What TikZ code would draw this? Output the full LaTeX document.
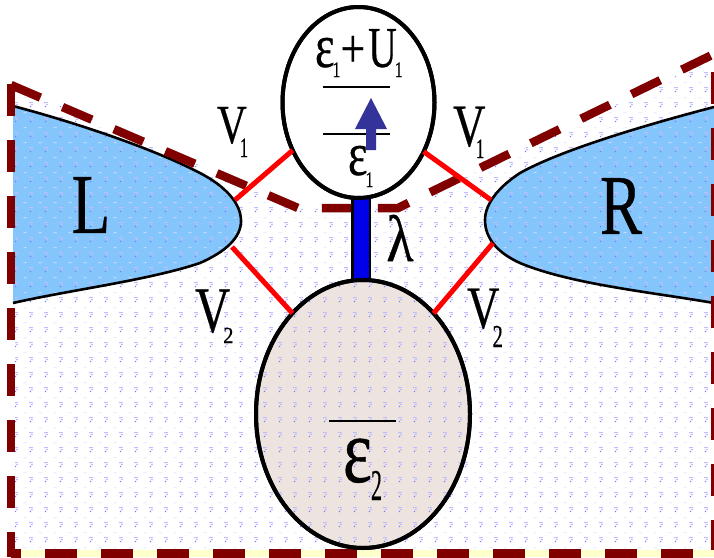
\documentclass[tikz,border=0pt]{standalone}
\usepackage{fontspec}
\setmainfont{Liberation Serif}
\newfontfamily\heavy{Liberation Serif}[FakeBold=0.5]
\usetikzlibrary{shapes.geometric,patterns,calc}
\definecolor{dashred}{HTML}{800000}
\definecolor{leadblue}{HTML}{84C5FB}
\definecolor{beige}{HTML}{EDE3DF}
\definecolor{arrowblue}{HTML}{333399}
\definecolor{dotfaint}{HTML}{E4E4FF}
\definecolor{dotlight}{HTML}{BEBEFF}
\definecolor{dotdark}{HTML}{7878FF}
\definecolor{paleyellow}{HTML}{FFFFCC}
\pgfdeclarepatterninherentlycolored{qdots}{\pgfqpoint{0pt}{0pt}}{\pgfqpoint{14.6pt}{14.6pt}}{\pgfqpoint{14.6pt}{14.6pt}}{%
  \pgfsetfillcolor{dotfaint}%
  \pgfpathrectangle{\pgfqpoint{10pt}{10pt}}{\pgfqpoint{3pt}{1pt}}%
  \pgfusepath{fill}%
  \pgfsetfillcolor{dotlight}%
  \pgfpathrectangle{\pgfqpoint{0pt}{5pt}}{\pgfqpoint{4pt}{1pt}}%
  \pgfpathrectangle{\pgfqpoint{2pt}{3pt}}{\pgfqpoint{2pt}{1pt}}%
  \pgfusepath{fill}%
  \pgfsetfillcolor{dotdark}%
  \pgfpathrectangle{\pgfqpoint{1pt}{1pt}}{\pgfqpoint{1.2pt}{1.2pt}}%
  \pgfusepath{fill}%
}
\tikzset{
  leadfill/.style={fill=leadblue},
  leadline/.style={draw=black,line width=2.6pt},
  dashline/.style={draw=dashred,line width=8.5pt,dash pattern=on 32pt off 24pt},
  coupling/.style={draw=red,line width=5pt},
  hopedge/.style={draw=black,line width=20pt},
  hopbar/.style={draw=blue!92!black,line width=15pt},
  qdot/.style={ellipse,draw=black,line width=4pt,inner sep=0pt,outer sep=0pt},
  level/.style={draw=black,line width=2pt},
  lab/.style={inner sep=0pt,outer sep=0pt,text=black,anchor=base west}
}
\newcommand{\sx}[2]{\scalebox{#1}[1]{\heavy #2}}
\newcommand{\fs}[1]{\fontsize{#1}{#1}\selectfont}
% glyph size, glyph xscale, glyph, kern, drop, sub size, sub xscale, digit
\newcommand{\gs}[8]{{\fs{#1}\sx{#2}{#3}}\kern#4pt\raisebox{-#5pt}{\fs{#6}\sx{#7}{#8}}}
\begin{document}
\begin{tikzpicture}[x=1pt,y=-1pt]
\useasboundingbox (0,0) rectangle (714,557);
\fill[white] (0,0) rectangle (714,557);
\fill[paleyellow] (7,550) rectangle (714,557);
% leads
\path[leadfill] (13,106) .. controls (70,121) and (150,147) .. (200,173)
  .. controls (225,186) and (241,203) .. (241,221)
  .. controls (241,238) and (225,252) .. (200,263)
  .. controls (150,280) and (70,290) .. (13,303) -- cycle;
\path[leadfill] (714,107) .. controls (680,116) and (570,145) .. (520,173)
  .. controls (500,186) and (485,203) .. (485,220)
  .. controls (485,240) and (500,254) .. (520,263)
  .. controls (570,284) and (650,292) .. (714,303) -- cycle;
\path[pattern=qdots] (15,85) -- (298,208) -- (398,208) -- (710,60) -- (710,550) -- (15,550) -- cycle;
\draw[leadline] (13,106) .. controls (70,121) and (150,147) .. (200,173)
  .. controls (225,186) and (241,203) .. (241,221)
  .. controls (241,238) and (225,252) .. (200,263)
  .. controls (150,280) and (70,290) .. (13,303);
\draw[leadline] (714,107) .. controls (680,116) and (570,145) .. (520,173)
  .. controls (500,186) and (485,203) .. (485,220)
  .. controls (485,240) and (500,254) .. (520,263)
  .. controls (570,284) and (650,292) .. (714,303);
% dashes
\draw[dashline] (11,84) -- (11,557);
\draw[dashline] (11,85) -- (298,208) -- (398,208) -- (714,54);
\draw[dashline,dash phase=22pt] (11,553.5) -- (714,553.5);
\draw[dashline] (715.5,72) -- (715.5,550);
% dots
\node[qdot,fill=white,minimum width=152pt,minimum height=191pt] (dotA) at (358.5,102.5) {};
\node[qdot,fill=beige,minimum width=214pt,minimum height=268pt] (dotB) at (363,414) {};
\coordinate (barx) at (361,0);
\draw[hopedge] (dotA.south -| barx) -- (dotB.north -| barx);
\draw[hopbar] (dotA.south -| barx) -- (dotB.north -| barx);
\node[qdot,minimum width=152pt,minimum height=191pt] at (358.5,102.5) {};
\node[qdot,pattern=qdots,minimum width=214pt,minimum height=268pt] at (363,414) {};
% lead contact points
\coordinate (Lup) at (235,200);
\coordinate (Ldn) at (232,247);
\coordinate (Rup) at (491,200);
\coordinate (Rdn) at (493,243);
\draw[coupling] (dotA.216.7) -- (Lup);
\draw[coupling] (dotB.125.6) -- (Ldn);
\draw[coupling] (dotA.323.3) -- (Rup);
\draw[coupling] (dotB.55.9) -- (Rdn);
% levels
\coordinate (a1) at (323,87); \coordinate (a2) at (390,87);
\coordinate (b1) at (323,134); \coordinate (b2) at (390,134);
\coordinate (c1) at (329,421); \coordinate (c2) at (396,421);
\draw[level] (a1) -- (a2);
\draw[level] (b1) -- (b2);
\draw[level] (c1) -- (c2);
% spin arrow
\fill[arrowblue] (371,98) -- (387,129) -- (376,129) -- (376,150) -- (366,150) -- (366,129) -- (355,129) -- cycle;
% labels
\node[lab,font=\fs{85},anchor=center] (tL) at (91,205) {\sx{.74}{L}};
\node[lab,font=\fs{85},anchor=center] (tR) at (621,206) {\sx{.74}{R}};
\node[lab] (tV1a) at (217,143) {\gs{55}{.75}{V}{-7}{14}{28}{.6}{1}};
\node[lab] (tV1b) at (453,146) {\gs{60}{.75}{V}{-9.5}{12}{28}{.6}{1}};
\node[lab] (tV2a) at (195,332) {\gs{65}{.75}{V}{-7}{11}{23}{.9}{2}};
\node[lab] (tV2b) at (467,328) {\gs{60}{.75}{V}{-7}{19}{32}{.65}{2}};
\node[lab] (tEU) at (315,67) {\gs{62}{.75}{ε}{-2}{10}{22}{.72}{1}{\fs{55}\sx{.8}{+}}\kern3pt\gs{58}{.68}{U}{-2}{10}{22}{.72}{1}};
\node[lab] (tE1) at (348,175) {\gs{62}{.75}{ε}{-2}{12}{22}{.72}{1}};
\node[lab] (tE2) at (343,482) {\gs{92}{.75}{ε}{-1}{18}{44}{.5}{2}};
\node[lab,anchor=center] (tLam) at (400,238) {\fs{66}\sx{.85}{λ}};
\end{tikzpicture}
\end{document}
